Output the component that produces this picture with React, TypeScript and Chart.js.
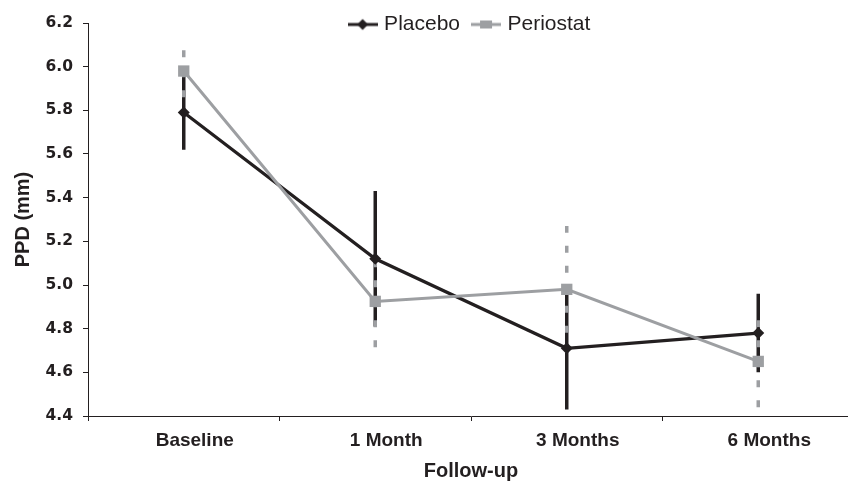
import React, { useEffect, useRef } from 'react';
import { Chart, registerables } from 'chart.js';

Chart.register(...registerables);

const categories = ['Baseline', '1 Month', '3 Months', '6 Months'];
const placeboMean = [5.79, 5.12, 4.71, 4.78];
const placeboErr = [0.17, 0.31, 0.28, 0.18];
const periostatMean = [5.98, 4.925, 4.98, 4.65];
const periostatErr = [0.12, 0.21, 0.29, 0.21];
const yMin = 4.4;
const yMax = 6.2;
const yStep = 0.2;

const BLACK = '#231f20';
const GRAY = '#9d9fa2';

function errorData(mean: number[], err: number[]) {
  const out: { x: string; y: number | null }[] = [];
  mean.forEach((m, i) => {
    out.push({ x: categories[i], y: m - err[i] });
    out.push({ x: categories[i], y: m + err[i] });
    out.push({ x: categories[i], y: null });
  });
  return out;
}

function legendIcon(color: string, kind: 'diamond' | 'square') {
  const c = document.createElement('canvas');
  c.width = 30;
  c.height = 14;
  const g = c.getContext('2d')!;
  g.strokeStyle = color;
  g.lineWidth = 3;
  g.beginPath();
  g.moveTo(0, 7);
  g.lineTo(30, 7);
  g.stroke();
  g.fillStyle = color;
  if (kind === 'diamond') {
    g.beginPath();
    g.moveTo(15, 1.5);
    g.lineTo(20.5, 7);
    g.lineTo(15, 12.5);
    g.lineTo(9.5, 7);
    g.closePath();
    g.fill();
  } else {
    g.fillRect(9, 3, 12, 8);
  }
  return c;
}

export default function App() {
  const ref = useRef<HTMLCanvasElement>(null);

  useEffect(() => {
    if (!ref.current) return;
    const placeboIcon = legendIcon(BLACK, 'diamond');
    const periostatIcon = legendIcon(GRAY, 'square');
    const chart = new Chart(ref.current, {
      type: 'line',
      data: {
        labels: categories,
        datasets: [
          {
            label: 'Periostat',
            data: periostatMean,
            borderColor: GRAY,
            backgroundColor: GRAY,
            borderWidth: 3,
            pointStyle: 'rect',
            pointRadius: 8,
            pointBackgroundColor: GRAY,
            pointBorderWidth: 0,
            tension: 0,
            fill: false,
          },
          {
            label: 'Placebo',
            data: placeboMean,
            borderColor: BLACK,
            backgroundColor: BLACK,
            borderWidth: 3.2,
            pointStyle: 'rectRot',
            pointRadius: 6,
            pointBackgroundColor: BLACK,
            pointBorderWidth: 0,
            tension: 0,
            fill: false,
          },
          {
            label: 'Periostat SD',
            data: errorData(periostatMean, periostatErr) as any,
            borderColor: GRAY,
            borderWidth: 3.5,
            borderDash: [7, 13],
            pointRadius: 0,
            spanGaps: false,
            tension: 0,
            fill: false,
          },
          {
            label: 'Placebo SD',
            data: errorData(placeboMean, placeboErr) as any,
            borderColor: BLACK,
            borderWidth: 3.5,
            pointRadius: 0,
            spanGaps: false,
            tension: 0,
            fill: false,
          },
        ],
      },
      options: {
        responsive: false,
        animation: false,
        layout: { padding: { top: -1, right: 0, left: 0, bottom: 0 } },
        plugins: {
          tooltip: { enabled: false },
          legend: {
            position: 'top',
            fullSize: false,
            maxHeight: 24,
            labels: {
              usePointStyle: true,
              pointStyleWidth: 22,
              padding: 15,
              color: BLACK,
              font: { family: 'Liberation Sans, Arial, sans-serif', size: 21 },
              generateLabels: () => [
                {
                  text: 'Placebo',
                  pointStyle: placeboIcon as any,
                  fillStyle: BLACK,
                  strokeStyle: BLACK,
                  lineWidth: 0,
                  hidden: false,
                  datasetIndex: 1,
                  fontColor: BLACK,
                },
                {
                  text: 'Periostat',
                  pointStyle: periostatIcon as any,
                  fillStyle: GRAY,
                  strokeStyle: GRAY,
                  lineWidth: 0,
                  hidden: false,
                  datasetIndex: 0,
                  fontColor: BLACK,
                },
              ],
            },
          },
        },
        scales: {
          x: {
            type: 'category',
            offset: true,
            afterFit: (s: any) => {
              s.height = 67;
              s.paddingLeft = 0;
              s.paddingRight = 0;
            },
            grid: {
              offset: true,
              drawOnChartArea: false,
              drawTicks: true,
              tickLength: 5,
              color: BLACK,
            },
            border: { display: true, color: BLACK, width: 1 },
            ticks: {
              color: BLACK,
              padding: 8,
              labelOffset: 11,
              maxRotation: 0,
              autoSkip: false,
              font: { family: 'Liberation Sans, Arial, sans-serif', size: 19, weight: 'bold' },
            },
            title: {
              display: true,
              text: 'Follow-up',
              color: BLACK,
              padding: { top: 0, bottom: 0 },
              font: { family: 'Liberation Sans, Arial, sans-serif', size: 20, weight: 'bold' },
            },
          },
          y: {
            type: 'linear',
            min: yMin,
            max: yMax,
            afterFit: (s: any) => {
              s.width = 88;
            },
            grid: {
              drawOnChartArea: false,
              drawTicks: true,
              tickLength: 5,
              color: BLACK,
            },
            border: { display: true, color: BLACK, width: 1 },
            ticks: {
              stepSize: yStep,
              color: BLACK,
              padding: 10,
              callback: (v: any) => Number(v).toFixed(1),
              font: { family: 'DejaVu Sans', size: 15.5, weight: 'bold' },
            },
            title: {
              display: true,
              text: 'PPD (mm)',
              color: BLACK,
              padding: { top: 11, bottom: 0 },
              font: { family: 'Liberation Sans, Arial, sans-serif', size: 20, weight: 'bold' },
            },
          },
        },
      },
    });
    const lg: any = (chart as any).legend;
    if (lg) {
      lg.draw = function () {
        if (this.options.display) this._draw();
      };
      chart.draw();
    }
    return () => chart.destroy();
  }, []);

  return (
    <div
      style={{
        position: 'fixed',
        left: 0,
        top: 0,
        width: 848,
        height: 483,
        overflow: 'hidden',
        background: '#fff',
      }}
    >
      <canvas ref={ref} width={862} height={483} style={{ display: 'block' }} />
    </div>
  );
}
